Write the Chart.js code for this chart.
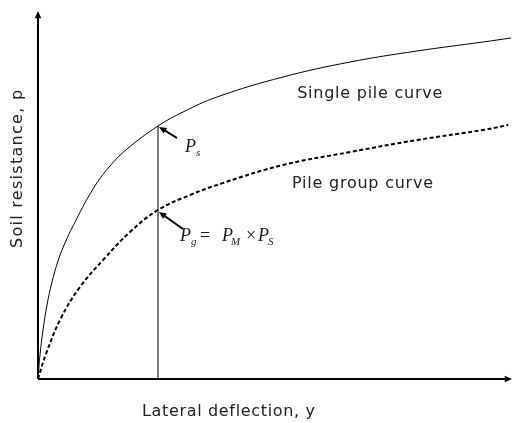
<!DOCTYPE html>
<html>
<head>
<meta charset="utf-8">
<script src="https://cdn.jsdelivr.net/npm/chart.js@4.4.1/dist/chart.umd.min.js"></script>
<style>
  html, body { margin: 0; padding: 0; background: #fff; }
  #chart { display: block; }
</style>
</head>
<body>
<canvas id="chart" width="513" height="423"></canvas>
<script>
// Single pile p-y curve (deflection, resistance)
const singleX = [0, 0.42, 1.06, 1.90, 2.96, 4.23, 5.71, 7.40, 11.63, 15.22, 18.82, 25.37, 30.66, 37.84, 51.8, 66.0, 80.13, 94.1, 100];
const singleY = [0, 6.54, 13.35, 20.16, 26.43, 32.15, 37.06, 41.69, 51.77, 58.04, 62.67, 68.94, 72.75, 76.84, 82.29, 86.38, 89.37, 91.83, 92.92];

// Pile group p-y curve
const groupX = [0, 1.69, 4.86, 8.88, 13.95, 19.45, 25.37, 32.14, 39.1, 51.8, 66.0, 80.13, 94.1, 99.4];
const groupY = [0, 6.81, 16.62, 25.07, 32.7, 40.05, 46.05, 50.14, 53.41, 58.31, 61.85, 65.12, 67.85, 69.21];

// Deflection where Ps and Pg are marked
const refDeflection = 25.37;
const refSingle = 68.94;
const refGroup = 46.05;

// Texts
const xTitle = 'Lateral deflection, y';
const yTitle = 'Soil resistance, p';
const singleLabel = 'Single pile curve';
const groupLabel = 'Pile group curve';

const toPoints = (xs, ys) => xs.map((x, i) => ({ x: x, y: ys[i] }));

// Arrow with filled head at (x2, y2)
function arrow(ctx, x1, y1, x2, y2, head, width) {
    const ang = Math.atan2(y2 - y1, x2 - x1);
    ctx.lineWidth = width;
    ctx.beginPath();
    ctx.moveTo(x1, y1);
    ctx.lineTo(x2 - Math.cos(ang) * head * 0.7, y2 - Math.sin(ang) * head * 0.7);
    ctx.stroke();
    ctx.beginPath();
    ctx.moveTo(x2, y2);
    ctx.lineTo(x2 - head * Math.cos(ang - 0.42), y2 - head * Math.sin(ang - 0.42));
    ctx.lineTo(x2 - head * Math.cos(ang + 0.42), y2 - head * Math.sin(ang + 0.42));
    ctx.closePath();
    ctx.fill();
}

// Spread a label so it spans the given width (the original font is wider)
function spreadText(ctx, text, x, y, width) {
    ctx.letterSpacing = '0px';
    const w = ctx.measureText(text).width;
    ctx.letterSpacing = ((width - w) / (text.length - 1)).toFixed(2) + 'px';
    ctx.fillText(text, x, y);
    ctx.letterSpacing = '0px';
}

// Math text: [text, kind, dx] where kind is 'v' (variable), 's' (subscript), 'o' (operator)
function mathText(ctx, x, y, parts) {
    parts.forEach(([t, kind, dx]) => {
        if (kind === 'v') ctx.font = 'italic 18px "Liberation Serif"';
        else if (kind === 's') ctx.font = 'italic 11px "Liberation Serif"';
        else ctx.font = '18px "Liberation Serif"';
        ctx.fillText(t, x + dx, kind === 's' ? y + 4 : y);
    });
}

const drawing = {
    id: 'drawing',
    afterDatasetsDraw(chart) {
        const ctx = chart.ctx;
        const xs = chart.scales.x, ys = chart.scales.y;
        const area = chart.chartArea;
        ctx.save();
        ctx.strokeStyle = '#000';
        ctx.fillStyle = '#000';

        // axes with arrow heads
        arrow(ctx, area.left, area.bottom, area.left, area.top - 1, 8, 2);
        arrow(ctx, area.left, area.bottom, area.right + 1, area.bottom, 8, 2);

        // axis titles
        ctx.fillStyle = '#222';
        ctx.font = '16px "DejaVu Sans"';
        ctx.textAlign = 'left';
        ctx.textBaseline = 'alphabetic';
        spreadText(ctx, xTitle, 142, 416, 173);
        ctx.save();
        ctx.translate(22, 248);
        ctx.rotate(-Math.PI / 2);
        spreadText(ctx, yTitle, 0, 0, 158);
        ctx.restore();

        // curve labels
        spreadText(ctx, singleLabel, xs.getPixelForValue(54.8), ys.getPixelForValue(76.5), 145);
        spreadText(ctx, groupLabel, xs.getPixelForValue(53.7), ys.getPixelForValue(52.0), 141);

        // Ps and Pg pointers
        const px = xs.getPixelForValue(refDeflection);
        const pys = ys.getPixelForValue(refSingle);
        const pyg = ys.getPixelForValue(refGroup);
        ctx.fillStyle = '#000';
        arrow(ctx, px + 19, pys + 12, px + 1, pys + 1, 8, 2);
        arrow(ctx, px + 25, pyg + 19, px + 1, pyg + 2, 8, 2);

        ctx.fillStyle = '#1a1a1a';
        mathText(ctx, px + 27, pys + 26, [['P', 'v', 0], ['s', 's', 11]]);
        mathText(ctx, px + 22, pyg + 31, [
            ['P', 'v', 0], ['g', 's', 11], ['=', 'o', 20],
            ['P', 'v', 42], ['M', 's', 51], ['\u00d7', 'o', 66],
            ['P', 'v', 78], ['S', 's', 88]
        ]);
        ctx.restore();
    }
};

new Chart(document.getElementById('chart'), {
    type: 'scatter',
    data: {
        datasets: [
            {
                label: singleLabel,
                data: toPoints(singleX, singleY),
                showLine: true,
                borderColor: '#000',
                borderWidth: 1,
                pointRadius: 0,
                tension: 0.4
            },
            {
                label: groupLabel,
                data: toPoints(groupX, groupY),
                showLine: true,
                borderColor: '#000',
                borderWidth: 2,
                borderDash: [4, 2.5],
                pointRadius: 0,
                tension: 0.4
            },
            {
                label: 'reference',
                data: [{ x: refDeflection, y: 0 }, { x: refDeflection, y: refSingle }],
                showLine: true,
                borderColor: '#000',
                borderWidth: 1,
                pointRadius: 0,
                tension: 0
            }
        ]
    },
    options: {
        responsive: false,
        animation: false,
        layout: { padding: { left: 38, right: 2, top: 12, bottom: 44 } },
        scales: {
            x: { type: 'linear', min: 0, max: 100, display: false },
            y: { type: 'linear', min: 0, max: 100, display: false }
        },
        plugins: {
            legend: { display: false },
            tooltip: { enabled: false }
        }
    },
    plugins: [drawing]
});
</script>
</body>
</html>
